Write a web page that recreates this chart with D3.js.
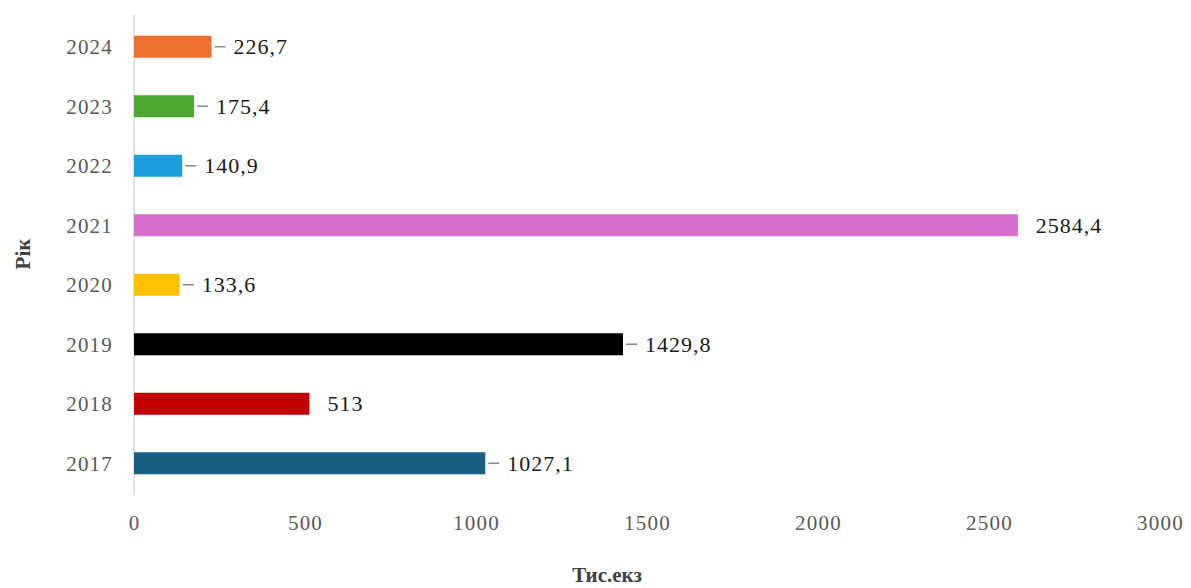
<!DOCTYPE html>
<html><head><meta charset="utf-8">
<script src="https://cdn.jsdelivr.net/npm/d3@7"></script>
<style>body{margin:0;background:#fff}svg{display:block}</style>
</head><body>
<svg id="c" width="1191" height="588"></svg>
<script>
const years = ["2017","2018","2019","2020","2021","2022","2023","2024"];
const values = [1027.1, 513, 1429.8, 133.6, 2584.4, 140.9, 175.4, 226.7];
const labels = ["1027,1","513","1429,8","133,6","2584,4","140,9","175,4","226,7"];
const colors = ["#195e83","#c00000","#000000","#ffc000","#d86ecc","#1b9fdc","#4ea72e","#ed7031"];
const leaders = [true,false,true,true,false,true,true,true];
const xTicks = [0,500,1000,1500,2000,2500,3000];

const svg = d3.select("#c");
const serif = "'Liberation Serif','Times New Roman',serif";
const x = d3.scaleLinear().domain([0,3000]).range([134,1160]);
const y = d3.scaleBand().domain(years.slice().reverse()).range([17,493]).paddingInner(0.63).paddingOuter(0.315);

svg.append("line").attr("x1",x(0)).attr("x2",x(0)).attr("y1",15).attr("y2",495)
  .attr("stroke","#d9d9d9").attr("stroke-width",1.5);

const xAxis = d3.axisBottom(x).tickValues(xTicks).tickSize(0).tickPadding(0).tickFormat(d3.format("d"));
const gx = svg.append("g").attr("transform","translate(0,530)").call(xAxis);
gx.select(".domain").remove();
gx.selectAll("text").attr("font-family",serif).attr("font-size",21).attr("fill","#595959")
  .attr("dy",0).attr("letter-spacing",1.2);

const yAxis = d3.axisLeft(y).tickSize(0).tickPadding(0);
const gy = svg.append("g").attr("transform","translate(113,0)").call(yAxis);
gy.select(".domain").remove();
gy.selectAll("text").attr("font-family",serif).attr("font-size",21).attr("fill","#595959")
  .attr("dy","0.35em").attr("letter-spacing",1.2);

const data = years.map((yr,i)=>({yr, v:values[i], l:labels[i], c:colors[i], ld:leaders[i]}));

svg.selectAll("rect.bar").data(data).join("rect").attr("class","bar")
  .attr("x",x(0)).attr("y",d=>y(d.yr)).attr("width",d=>x(d.v)-x(0)).attr("height",y.bandwidth())
  .attr("fill",d=>d.c);

svg.selectAll("line.ld").data(data.filter(d=>d.ld)).join("line").attr("class","ld")
  .attr("x1",d=>x(d.v)+3).attr("x2",d=>x(d.v)+14)
  .attr("y1",d=>y(d.yr)+y.bandwidth()/2).attr("y2",d=>y(d.yr)+y.bandwidth()/2)
  .attr("stroke","#8c8c8c").attr("stroke-width",1.6);

svg.selectAll("text.val").data(data).join("text").attr("class","val")
  .attr("x",d=>x(d.v)+(d.ld?22:18)).attr("y",d=>y(d.yr)+y.bandwidth()/2).attr("dy","0.35em")
  .attr("font-family",serif).attr("font-size",22).attr("fill","#1a1a1a").attr("letter-spacing",1)
  .text(d=>d.l);

svg.append("text").attr("x",607).attr("y",582).attr("text-anchor","middle")
  .attr("font-family",serif).attr("font-size",21).attr("font-weight","bold").attr("fill","#404040")
  .text("Тис.екз");

svg.append("text").attr("transform","translate(30,254) rotate(-90)").attr("text-anchor","middle")
  .attr("font-family",serif).attr("font-size",21).attr("font-weight","bold").attr("fill","#404040")
  .text("Рік");
</script>
</body></html>
